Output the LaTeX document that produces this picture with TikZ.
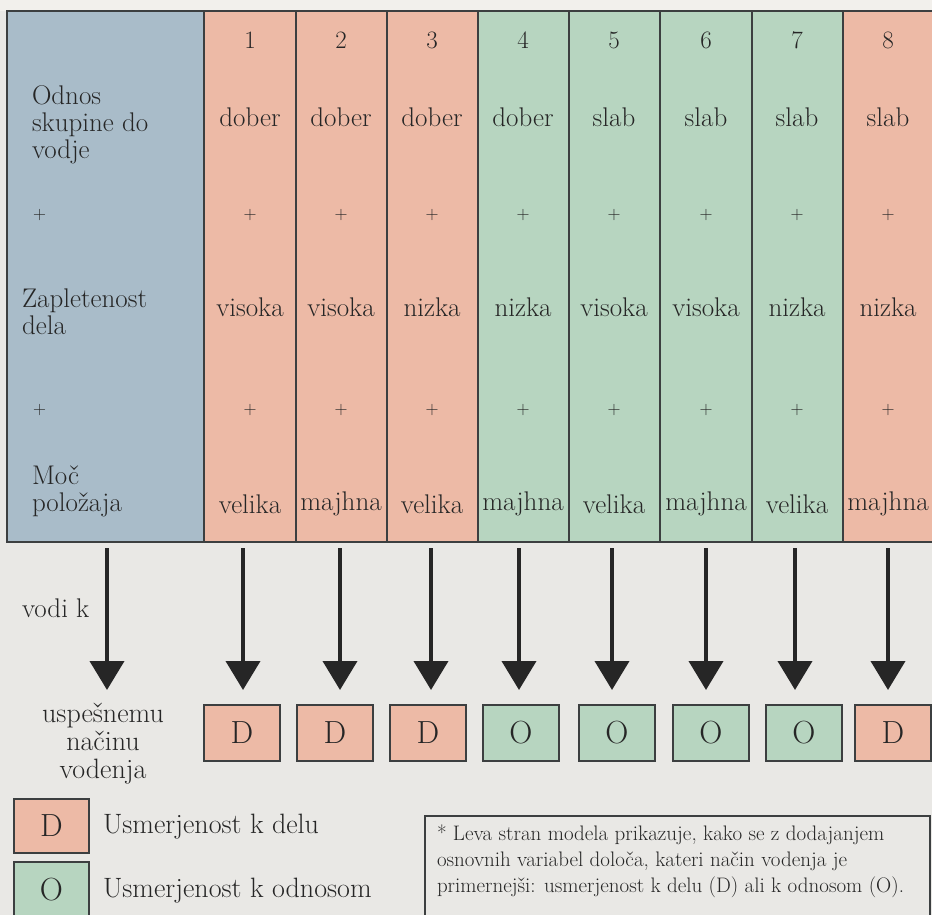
\documentclass[tikz,border=0pt]{standalone}
\usetikzlibrary{arrows.meta}
\definecolor{paper}{HTML}{E9E8E5}
\definecolor{paperlight}{HTML}{F2F0EC}
\definecolor{leadblue}{HTML}{A9BCC9}
\definecolor{taskred}{HTML}{EDBAA6}
\definecolor{relgreen}{HTML}{B7D5C0}
\definecolor{ink}{HTML}{262626}
\definecolor{rulegrey}{HTML}{3C3F40}
\begin{document}
\begin{tikzpicture}[x=1pt,y=-1pt,
  every node/.style={text=ink, inner sep=0pt, outer sep=0pt},
  big/.style={font=\fontsize{27}{27}\selectfont},
  numtxt/.style={font=\fontsize{25}{25}\selectfont},
  plus/.style={font=\fontsize{18}{20}\selectfont},
  lefttxt/.style={big, align=left, anchor=west},
  rule/.style={draw=rulegrey, line width=1.1pt},
  resultbox/.style={rule, minimum width=76pt, minimum height=56pt, font=\fontsize{32}{32}\selectfont},
  flow/.style={draw=ink, line width=4pt, -{Triangle[width=34pt,length=29pt]}, shorten >=15pt}
]
\useasboundingbox (0,0) rectangle (932,915);
\fill[paper] (0,0) rectangle (932,915);
\fill[paperlight] (0,0) rectangle (932,11);

% column backgrounds
\fill[leadblue] (7,11) rectangle (204,542);
\foreach \l/\r/\c in {204/296/taskred, 296/387/taskred, 387/478/taskred,
                      478/569/relgreen, 569/660/relgreen, 660/752/relgreen,
                      752/843/relgreen, 843/932/taskred}
  \fill[\c] (\l,11) rectangle (\r,542);

% table rules
\draw[rule] (932,11) -- (7,11) -- (7,542) -- (932,542);
\foreach \x in {204,296,387,478,569,660,752,843}
  \draw[rule] (\x,11) -- (\x,542);

% left column labels
\node[lefttxt] (lab1) at (32,125) {Odnos\\skupine do\\vodje};
\node[plus, anchor=west] (plusA) at (33,215) {+};
\node[lefttxt] (lab2) at (22,312) {Zapletenost\\dela};
\node[plus, anchor=west] (plusB) at (33,410) {+};
\node[lefttxt] (lab3) at (32,491) {Moč\\položaja};

% situation columns
\foreach \i/\cx/\rel/\task/\pow in {
  1/250/dober/visoka/velika, 2/341/dober/visoka/majhna, 3/432/dober/nizka/velika,
  4/523/dober/nizka/majhna, 5/614/slab/visoka/velika, 6/706/slab/visoka/majhna,
  7/797/slab/nizka/velika, 8/888/slab/nizka/majhna} {
  \node[numtxt] (num\i) at (\cx,40) {\i};
  \node[big] (rel\i) at (\cx,117) {\rel};
  \node[plus] (pa\i) at (\cx,215) {+};
  \node[big] (task\i) at (\cx,307) {\task};
  \node[plus] (pb\i) at (\cx,410) {+};
  \node[big] (pow\i) at (\cx,504) {\pow};
}

% outcome row
\node[big, anchor=west] (vodik) at (22,608) {vodi k};
\node[big, align=center, font=\fontsize{28}{28}\selectfont] (outcome) at (103,744) {uspešnemu\\načinu\\vodenja};

\foreach \i/\cx/\c/\t in {1/242/taskred/D, 2/335/taskred/D, 3/428/taskred/D,
                          4/521/relgreen/O, 5/617/relgreen/O, 6/711/relgreen/O,
                          7/804/relgreen/O, 8/893/taskred/D}
  \node[resultbox, fill=\c] (res\i) at (\cx,733) {\t};

% arrows
\coordinate (s0) at (107,548);
\coordinate (e0) at (107,705);
\draw[flow] (s0) -- (e0);
\foreach \i/\ax in {1/243, 2/340, 3/431, 4/519, 5/612, 6/706, 7/795, 8/888} {
  \coordinate (s\i) at (\ax,548);
  \coordinate (e\i) at (\ax,705);
  \draw[flow] (s\i) -- (e\i);
}

% legend
\node[resultbox, fill=taskred, minimum width=75pt, minimum height=54pt] (legD) at (51.5,826) {D};
\node[lefttxt, font=\fontsize{28}{28}\selectfont] (legDtxt) at (103,827) {Usmerjenost k delu};
\node[resultbox, fill=relgreen, minimum width=75pt, minimum height=56pt] (legO) at (51.5,890) {O};
\node[lefttxt, font=\fontsize{28}{28}\selectfont] (legOtxt) at (103,891) {Usmerjenost k odnosom};

% footnote box
\draw[rule, fill=paper] (425,816) rectangle (930,925);
\node[anchor=north west, align=left, font=\fontsize{21}{26}\selectfont] (note) at (437,825)
  {* Leva stran modela prikazuje, kako se z dodajanjem\\
   osnovnih variabel določa, kateri način vodenja je\\
   primernejši: usmerjenost k delu (D) ali k odnosom (O).};
\end{tikzpicture}
\end{document}
